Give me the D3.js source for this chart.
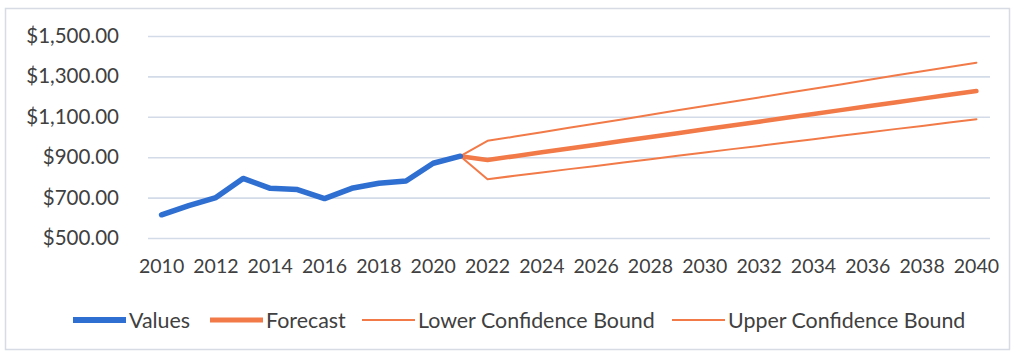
<!DOCTYPE html>
<html>
<head>
<meta charset="utf-8">
<script src="https://cdn.jsdelivr.net/npm/d3@7"></script>
<style>
  html, body { margin: 0; padding: 0; background: #fff; }
  svg { display: block; }
  text { font-family: Lato, "Open Sans", sans-serif; fill: #404040; }
</style>
</head>
<body>
<svg id="chart" width="1016" height="355"></svg>
<script>
// Yearly categories on the x axis
const years = d3.range(2010, 2041);
const yearTicks = d3.range(2010, 2041, 2);

// Historical values 2010–2021
const valueYears = d3.range(2010, 2022);
const values = [615, 660, 700, 795, 746, 740, 695, 746, 771, 782, 870, 905];

// Forecast and confidence bounds 2021–2040 (2021 anchors on the last actual value)
const forecastYears = d3.range(2021, 2041);
const forecast = [905, 886, 905, 924, 943, 962, 981, 1000, 1019, 1038, 1057, 1076, 1095, 1114, 1133, 1152, 1171, 1190, 1209, 1228];
const lowerBound = [905, 791, 808, 824, 841, 857, 874, 890, 907, 923, 940, 956, 973, 989, 1006, 1022, 1039, 1055, 1072, 1088];
const upperBound = [905, 981, 1002, 1024, 1046, 1067, 1088, 1110, 1132, 1153, 1174, 1196, 1218, 1239, 1260, 1282, 1304, 1325, 1346, 1368];

const yTicks = [500, 700, 900, 1100, 1300, 1500];

const legendItems = [
  { label: "Values", color: "#2f6fd1", width: 6 },
  { label: "Forecast", color: "#f27a48", width: 5 },
  { label: "Lower Confidence Bound", color: "#f27a48", width: 2 },
  { label: "Upper Confidence Bound", color: "#f27a48", width: 2 }
];

const svg = d3.select("#chart");

// outer chart frame
svg.append("rect")
  .attr("x", 5.5).attr("y", 8.5)
  .attr("width", 1004).attr("height", 341)
  .attr("fill", "none")
  .attr("stroke", "#d6dbe4")
  .attr("stroke-width", 1.5);

const plot = { left: 148, right: 990, top: 36, bottom: 238 };

const x = d3.scaleBand()
  .domain(years)
  .range([plot.left, plot.right]);
const xc = yr => x(yr) + x.bandwidth() / 2;

const y = d3.scaleLinear()
  .domain([500, 1500])
  .range([plot.bottom, plot.top]);

const fmt = v => "$" + d3.format(",.2f")(v);

// horizontal gridlines + value labels
const yAxis = d3.axisLeft(y)
  .tickValues(yTicks)
  .tickSize(-(plot.right - plot.left))
  .tickPadding(29)
  .tickFormat(fmt);

const gy = svg.append("g")
  .attr("transform", `translate(${plot.left},0)`)
  .call(yAxis);
gy.select(".domain").remove();
gy.selectAll(".tick line")
  .attr("stroke", "#d3dbe8")
  .attr("stroke-width", 1.6);
gy.selectAll(".tick text")
  .attr("font-family", "Lato, 'Open Sans', sans-serif")
  .attr("font-size", 20.5)
  .attr("fill", "#404040");

// year labels along the bottom
const xAxis = d3.axisBottom(x)
  .tickValues(yearTicks)
  .tickSize(0)
  .tickPadding(21);
const gx = svg.append("g")
  .attr("transform", `translate(0,${plot.bottom})`)
  .call(xAxis);
gx.select(".domain").remove();
gx.selectAll(".tick text")
  .attr("font-family", "Lato, 'Open Sans', sans-serif")
  .attr("font-size", 19.5)
  .attr("fill", "#303030");

const line = d3.line()
  .x(d => xc(d[0]))
  .y(d => y(d[1]));

const zipSeries = (ys, vs) => ys.map((yr, i) => [yr, vs[i]]);

function drawSeries(data, color, width) {
  svg.append("path")
    .datum(data)
    .attr("fill", "none")
    .attr("stroke", color)
    .attr("stroke-width", width)
    .attr("stroke-linejoin", "round")
    .attr("stroke-linecap", "round")
    .attr("d", line);
}

drawSeries(zipSeries(forecastYears, lowerBound), "#f27a48", 2);
drawSeries(zipSeries(forecastYears, upperBound), "#f27a48", 2);
drawSeries(zipSeries(forecastYears, forecast), "#f27a48", 4.5);
drawSeries(zipSeries(valueYears, values), "#2f6fd1", 5.5);

// legend row
const legendPos = [73, 210, 362, 672];
const legend = svg.append("g").attr("transform", "translate(0,320)");
legendItems.forEach((item, i) => {
  const g = legend.append("g").attr("transform", `translate(${legendPos[i]},0)`);
  g.append("line")
    .attr("x1", 0).attr("x2", 53)
    .attr("y1", 0).attr("y2", 0)
    .attr("stroke", item.color)
    .attr("stroke-width", item.width);
  g.append("text")
    .attr("x", 56)
    .attr("y", 0)
    .attr("dy", "0.35em")
    .attr("font-size", 21.4)
    .attr("fill", "#303030")
    .text(item.label);
});
</script>
</body>
</html>
